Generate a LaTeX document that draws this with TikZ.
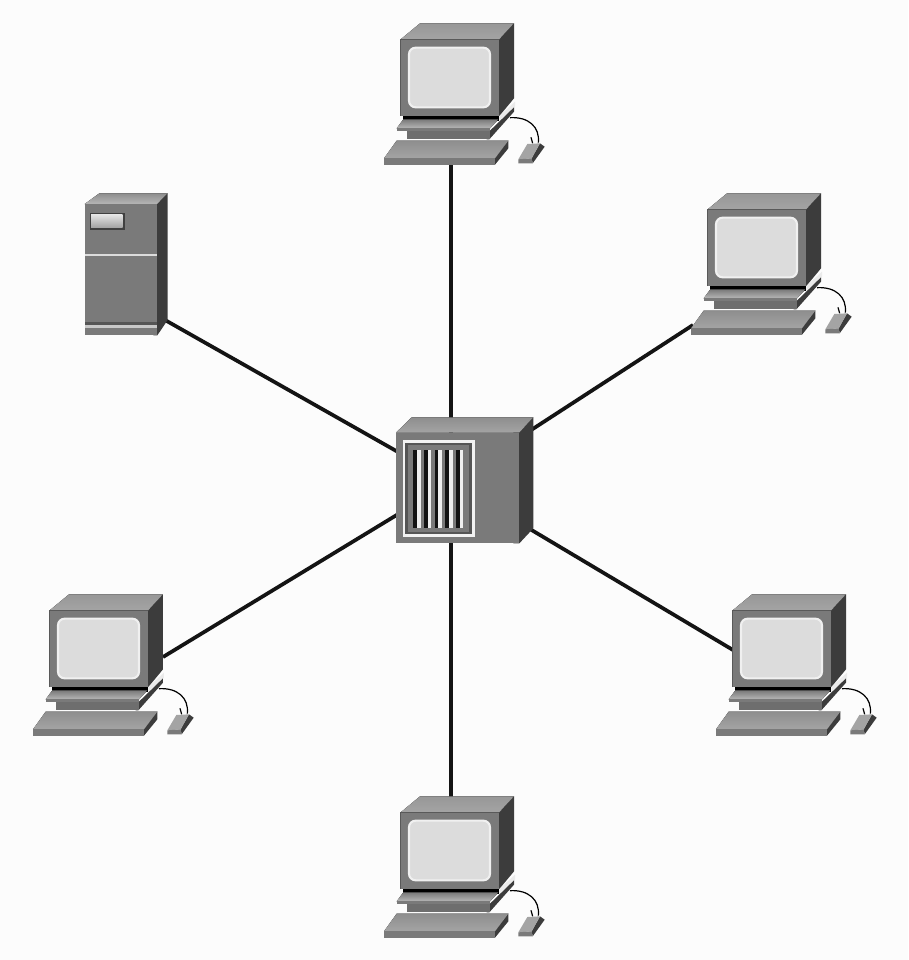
\documentclass[tikz,border=0pt]{standalone}
\definecolor{pagegray}{HTML}{FCFCFC}
\definecolor{frontgray}{HTML}{7A7A7A}
\definecolor{topgray}{HTML}{A4A4A4}
\definecolor{sidedark}{HTML}{3C3C3C}
\definecolor{screengray}{HTML}{DCDCDC}
\definecolor{wirecolor}{HTML}{141414}
\tikzset{
	pc/.pic={
		\fill[top color=topgray!70!frontgray, bottom color=topgray] (92,88) -- (150,40) -- (432,40) -- (388,88) -- cycle;
		\fill[sidedark] (380,88) -- (388,88) -- (432,40) -- (432,265) -- (388,318) -- (380,318) -- cycle;
		\fill[frontgray] (92,88) rectangle (388,318);
		\draw[black!65, line width=0.5pt] (92,318) -- (92,88) -- (388,88);
		\fill[screengray, draw=white!94!black, line width=1.6pt, rounded corners=5pt] (117,113) rectangle (360,292);
		\fill[black] (100,318) rectangle (388,332);
		\fill[white!92!black] (388,318) -- (435,275) -- (435,290) -- (388,332) -- cycle;
		\fill[sidedark] (350,362) -- (360,362) -- (432,292) -- (432,305) -- (358,388) -- (350,388) -- cycle;
		\fill[frontgray!90!black] (112,362) rectangle (360,388);
		\fill[top color=frontgray, bottom color=topgray!80!white] (80,355) -- (100,328) -- (385,328) -- (360,355) -- cycle;
		\fill[frontgray] (80,355) rectangle (360,362);
		\fill[sidedark] (365,445) -- (375,445) -- (415,392) -- (415,415) -- (375,464) -- (365,464) -- cycle;
		\fill[top color=frontgray!85!white, bottom color=topgray] (42,445) -- (80,392) -- (415,392) -- (375,445) -- cycle;
		\fill[frontgray] (42,445) rectangle (375,464);
		\draw[black, line width=0.9pt] (420,323) .. controls (475,320) and (510,350) .. (505,398);
		\draw[black, line width=0.9pt] (483,382) -- (488,400);
		\fill[sidedark] (485,445) -- (510,400) -- (524,410) -- (488,460) -- cycle;
		\fill[topgray] (445,448) -- (472,402) -- (510,400) -- (485,445) -- cycle;
		\fill[frontgray] (445,448) -- (485,445) -- (488,460) -- (445,460) -- cycle;
	}
}
\begin{document}
\begin{tikzpicture}[x=0.75pt, y=-0.75pt]
	\useasboundingbox[fill=pagegray] (0,0) rectangle (908,960);

	\coordinate (hub) at (451,482);
	\coordinate (pcnorth) at (451,160);
	\coordinate (pcsouth) at (451,800);
	\coordinate (pceast) at (693,325);
	\coordinate (pcwest) at (163,657);
	\coordinate (pcsoutheast) at (733,650);
	\coordinate (server) at (165,320);

	\draw[wirecolor, line width=2.8pt] (hub) -- (pcnorth);
	\draw[wirecolor, line width=2.8pt] (hub) -- (pcsouth);
	\draw[wirecolor, line width=2.8pt] (hub) -- (pceast);
	\draw[wirecolor, line width=2.8pt] (hub) -- (pcwest);
	\draw[wirecolor, line width=2.8pt] (hub) -- (pcsoutheast);
	\draw[wirecolor, line width=2.8pt] (hub) -- (server);

	\pic[scale=1/3] at (370,10) {pc};
	\pic[scale=1/3] at (677,180) {pc};
	\pic[scale=1/3] at (19,581) {pc};
	\pic[scale=1/3] at (702,581) {pc};
	\pic[scale=1/3] at (370,783) {pc};

	\begin{scope}[shift={(70,180)}, scale=1/3]
		\fill[top color=frontgray!85!white, bottom color=topgray!80!white] (44,72) -- (88,40) -- (293,40) -- (262,72) -- cycle;
		\fill[sidedark] (250,72) -- (262,72) -- (293,40) -- (293,420) -- (262,466) -- (250,466) -- cycle;
		\fill[frontgray] (44,72) rectangle (262,466);
		\fill[screengray] (44,222) rectangle (262,229);
		\fill[black!75] (60,100) rectangle (165,150);
		\fill[top color=white!90!black, bottom color=topgray] (63,103) rectangle (158,142);
		\fill[frontgray!70!black] (44,425) rectangle (262,434);
		\fill[topgray!60!white] (44,434) rectangle (262,444);
	\end{scope}

	\begin{scope}[shift={(380,400)}, scale=1/3]
		\fill[top color=frontgray!85!white, bottom color=topgray] (48,98) -- (95,52) -- (460,52) -- (418,98) -- cycle;
		\fill[sidedark] (400,98) -- (418,98) -- (460,52) -- (460,385) -- (418,430) -- (400,430) -- cycle;
		\fill[frontgray] (48,98) rectangle (418,430);
		\fill[frontgray!70!black] (74,126) rectangle (278,404);
		\fill[frontgray] (84,136) rectangle (268,396);
		\draw[white!95!black, line width=1.9pt] (72,124) rectangle (280,406);
		\foreach \x in {0,1,2,3,4} {
			\fill[black!92] (100+32*\x,150) rectangle (111+32*\x,385);
			\fill[white!94!black] (111+32*\x,150) rectangle (122+32*\x,385);
		}
	\end{scope}
\end{tikzpicture}
\end{document}
